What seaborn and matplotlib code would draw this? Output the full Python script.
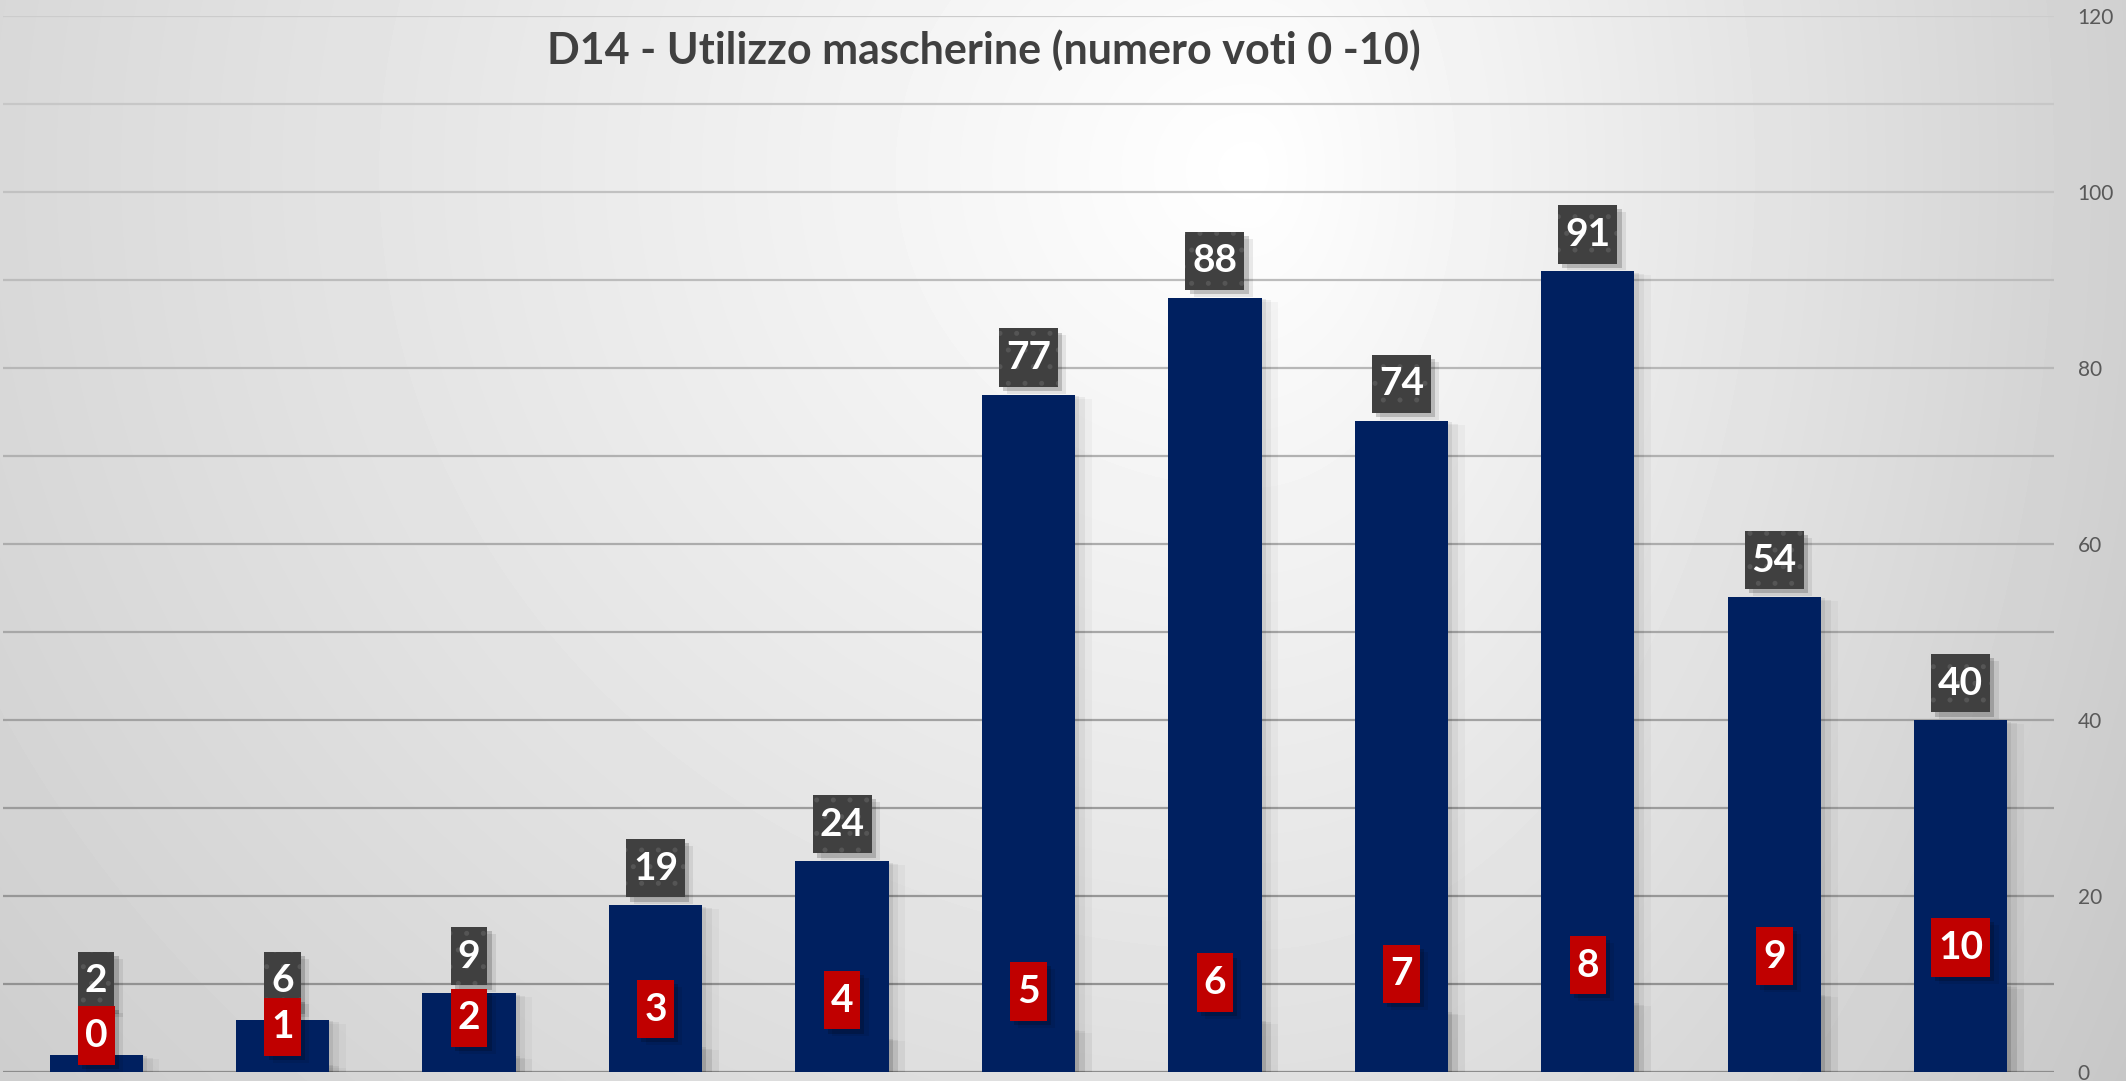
import numpy as np
import pandas as pd
import seaborn as sns
import matplotlib.pyplot as plt
import matplotlib.patheffects as pe
from matplotlib.path import Path

votes = [0, 1, 2, 3, 4, 5, 6, 7, 8, 9, 10]
counts = [2, 6, 9, 19, 24, 77, 88, 74, 91, 54, 40]
y_ticks = [0, 20, 40, 60, 80, 100, 120]
title = "D14 - Utilizzo mascherine (numero voti 0 -10)"

bar_color = "#002060"
red_box = "#c00000"
dark_box = "#404040"

plt.rcParams["font.family"] = ["Lato", "DejaVu Sans"]
plt.rcParams["hatch.color"] = "#555555"
plt.rcParams["hatch.linewidth"] = 1.2

df = pd.DataFrame({
    "voto": [str(v) for v in votes],
    "count": counts,
    "vote_val": votes,
})


def tall_box(x0, y0, width, height, mutation_size):
    # label box: narrow side padding, taller top/bottom padding
    px = 0.18 * mutation_size
    py = 0.30 * mutation_size
    verts = [
        (x0 - px, y0 - py),
        (x0 + width + px, y0 - py),
        (x0 + width + px, y0 + height + py),
        (x0 - px, y0 + height + py),
        (x0 - px, y0 - py),
    ]
    return Path(verts, closed=True)


fig = plt.figure(figsize=(21.26, 10.81), dpi=100)

# Background (soft radial grey gradient)
bg = fig.add_axes([0, 0, 1, 1], zorder=0)
h, w = 1081, 2126
yy, xx = np.mgrid[0:h, 0:w]
cx, cy = 1250, 170
rx = np.where(xx > cx, 1100, 1900)
t = np.sqrt(((xx - cx) / rx) ** 2 + ((yy - cy) / 1700) ** 2)
shade = 1 - 0.23 * np.clip(t, 0, 1)
bg.imshow(shade, cmap="gray", vmin=0, vmax=1, aspect="auto")
bg.axis("off")

ax = fig.add_axes([0.0014, 0.0079, 0.9647, 0.9773], zorder=1)
ax.patch.set_alpha(0)

# Gridlines, darker toward the bottom
for g in range(0, 121, 10):
    shade_g = 0.55 + 0.25 * g / 120
    ax.axhline(g, color=(shade_g, shade_g, shade_g), lw=1.6, zorder=1)

sns.barplot(
    data=df,
    x="voto",
    y="count",
    color=bar_color,
    saturation=1,
    width=0.5,
    errorbar=None,
    ax=ax,
    zorder=3,
)

sns.barplot(
    data=df,
    x="voto",
    y="vote_val",
    color=bar_color,
    saturation=1,
    width=0.5,
    errorbar=None,
    ax=ax,
    zorder=4,
)

bar_shadow = [
    pe.SimplePatchShadow(offset=(3, -1), shadow_rgbFace="k", alpha=0.07),
    pe.SimplePatchShadow(offset=(7, -2), shadow_rgbFace="k", alpha=0.05),
    pe.SimplePatchShadow(offset=(12, -3), shadow_rgbFace="k", alpha=0.03),
    pe.Normal(),
]
for patch in ax.patches:
    patch.set_path_effects(bar_shadow)

box_shadow = [
    pe.SimplePatchShadow(offset=(3, -3), shadow_rgbFace="k", alpha=0.18, hatch=None),
    pe.SimplePatchShadow(offset=(6, -5), shadow_rgbFace="k", alpha=0.08, hatch=None),
    pe.Normal(),
]

for i, (v, c) in enumerate(zip(votes, counts)):
    txt = ax.text(
        i,
        max(c, 6.2) + 4.2,
        str(c),
        ha="center",
        va="center",
        color="white",
        fontsize=28,
        fontweight="bold",
        zorder=6,
        bbox=dict(
            boxstyle=tall_box,
            fc=dark_box,
            ec="#555555",
            lw=0,
            hatch=".",
        ),
    )
    txt.get_bbox_patch().set_path_effects(box_shadow)

    txt = ax.text(
        i,
        v + 4.2,
        str(v),
        ha="center",
        va="center",
        color="white",
        fontsize=28,
        fontweight="bold",
        zorder=7,
        bbox=dict(
            boxstyle=tall_box,
            fc=red_box,
            ec="none",
        ),
    )
    txt.get_bbox_patch().set_path_effects(box_shadow)

ax.set_xlim(-0.5, 10.5)
ax.set_ylim(0, 120)
ax.yaxis.tick_right()
ax.set_yticks(y_ticks)
ax.set_xticks([])
ax.tick_params(axis="y", length=0, pad=17, labelsize=15, labelcolor="#595959")
ax.set_xlabel("")
ax.set_ylabel("")
for s in ax.spines.values():
    s.set_visible(False)

fig.text(
    0.463,
    0.954,
    title,
    ha="center",
    va="center",
    fontsize=31,
    fontweight="bold",
    color="#404040",
)

fig.savefig("out.png", dpi=100)
